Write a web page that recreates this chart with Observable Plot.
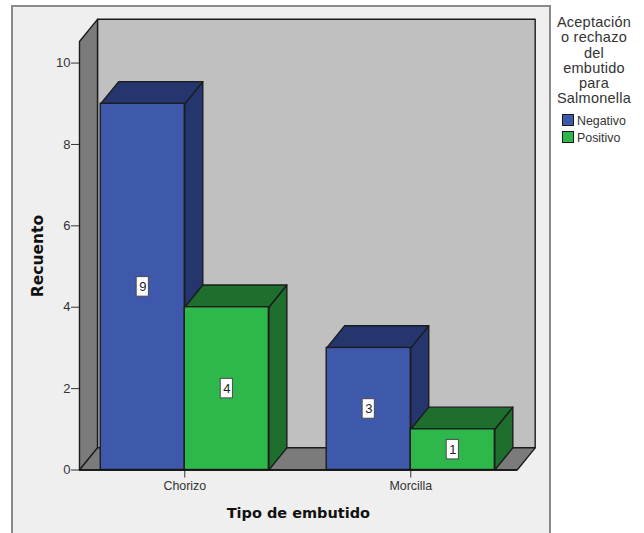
<!DOCTYPE html>
<html>
<head>
<meta charset="utf-8">
<script src="https://cdn.jsdelivr.net/npm/d3@7"></script>
<script src="https://cdn.jsdelivr.net/npm/@observablehq/plot@0.6"></script>
<style>
  html, body { margin: 0; padding: 0; background: #fff; overflow: hidden; }
  #chart { position: relative; width: 644px; height: 533px; overflow: hidden; }
  #panel { position: absolute; left: 11px; top: 5px; width: 536px; height: 540px; background: #efefef; border: 2px solid #8a8a8a; }
  #chart svg { position: absolute; left: 0; top: 0; }
  #legend { position: absolute; left: 551px; top: 15px; width: 86px; font-family: "Liberation Sans", Arial, sans-serif; color: #333; }
  #legend .title { font-size: 14.5px; line-height: 15.3px; text-align: center; letter-spacing: 0.25px; }
  #legend .item { position: absolute; left: 11px; font-size: 12.4px; line-height: 16px; white-space: nowrap; }
  #legend .swatch { display: inline-block; width: 10px; height: 10px; border: 1px solid #1a1a1a; margin-right: 3px; vertical-align: -1px; }
</style>
</head>
<body>
<div id="chart"><div id="panel"></div></div>
<script>
// Counts per sausage type, split by the Salmonella result
const categories = ["Chorizo", "Morcilla"];
const seriesNames = ["Negativo", "Positivo"];
const negativo = [9, 3];
const positivo = [4, 1];
const legendTitle = ["Aceptación", "o rechazo", "del", "embutido", "para", "Salmonella"];
const yTicks = [0, 2, 4, 6, 8, 10];

const frontColors = ["#3e58ab", "#2eb84b"];
const shadeColors = ["#25366e", "#1e6e2e"];

// Extent of the box in scale units, and the oblique offset of the depth faces
const xMin = -0.466, xMax = 1.471, yMax = 10.53;
const barWidth = 0.372, depthX = 0.0796, depthY = 0.545;

const xy = ([x, y]) => ({x, y});
const face = (pts, fill, stroke = "#1c1c1c") =>
  Plot.line(pts.map(xy), {x: "x", y: "y", curve: "linear-closed", fill, stroke, strokeWidth: 1.4, strokeLinejoin: "round"});

const marks = [
  // Back wall, side wall and floor of the box
  face([[xMin + depthX, depthY], [xMax + depthX, depthY], [xMax + depthX, yMax + depthY], [xMin + depthX, yMax + depthY]], "#c0c0c0"),
  face([[xMin, 0], [xMin + depthX, depthY], [xMin + depthX, yMax + depthY], [xMin, yMax]], "#7b7b7b"),
  face([[xMin, 0], [xMax, 0], [xMax + depthX, depthY], [xMin + depthX, depthY]], "#7b7b7b")
];

// Each bar is a front rectangle with an oblique side and top; drawn back to front
categories.forEach((cat, c) => {
  [negativo, positivo].forEach((series, s) => {
    const v = series[c];
    const x1 = c + (s - 1) * barWidth, x2 = x1 + barWidth;
    marks.push(
      face([[x2, 0], [x2 + depthX, depthY], [x2 + depthX, v + depthY], [x2, v]], shadeColors[s]),
      face([[x1, v], [x2, v], [x2 + depthX, v + depthY], [x1 + depthX, v + depthY]], shadeColors[s]),
      Plot.rect([{cat, v}], {x1: () => x1, x2: () => x2, y1: () => 0, y2: "v", fill: frontColors[s], stroke: "#1c1c1c", strokeWidth: 1.4})
    );
  });
});

// Boxed value labels at the middle of each bar
const labelRows = categories.flatMap((cat, c) => [negativo, positivo].map((series, s) => ({
  x: c + (s - 0.5) * barWidth, v: series[c]
})));
marks.push(
  Plot.rect(labelRows, {
    x1: d => d.x - 0.027, x2: d => d.x + 0.027,
    y1: d => d.v / 2 - 0.24, y2: d => d.v / 2 + 0.24,
    fill: "white", stroke: "#4a4a4a", strokeWidth: 1
  }),
  Plot.text(labelRows, {x: "x", y: d => d.v / 2, text: d => String(d.v), fontSize: 13, fill: "#222"})
);

marks.push(
  Plot.axisY({ticks: yTicks, tickSize: 8, tickPadding: 1, fontSize: 13, label: null, color: "#333", stroke: "#333"}),
  Plot.axisX({ticks: [0, 1], tickFormat: i => categories[i], tickSize: 8, tickPadding: 3, fontSize: 12.4, label: null, color: "#333", stroke: "#333"}),
  Plot.ruleY([0], {stroke: "#111", strokeWidth: 1.4}),
  Plot.text(["Recuento"], {frameAnchor: "left", rotate: -90, dx: -41, dy: 41.5, fontSize: 15.5, fontWeight: "bold", fill: "#111", fontFamily: "'DejaVu Sans', sans-serif"}),
  Plot.text(["Tipo de embutido"], {frameAnchor: "bottom", dx: 0, dy: 47.5, fontSize: 14.5, fontWeight: "bold", fill: "#111", fontFamily: "'DejaVu Sans', sans-serif"})
);

const plot = Plot.plot({
  width: 644, height: 533,
  marginLeft: 79, marginRight: 127.3, marginTop: 41, marginBottom: 63.5,
  style: {background: "transparent", fontFamily: "'Liberation Sans', Arial, sans-serif", overflow: "visible"},
  x: {type: "linear", domain: [xMin, xMax]},
  y: {type: "linear", domain: [0, yMax]},
  marks
});
const chart = document.getElementById("chart");
chart.appendChild(plot);

// Legend at the right of the panel
const legend = document.createElement("div");
legend.id = "legend";
const title = document.createElement("div");
title.className = "title";
title.innerHTML = legendTitle.join("<br>");
legend.appendChild(title);
seriesNames.forEach((name, i) => {
  const item = document.createElement("div");
  item.className = "item";
  item.style.top = (98 + i * 16.5) + "px";
  const sw = document.createElement("span");
  sw.className = "swatch";
  sw.style.background = frontColors[i];
  item.appendChild(sw);
  item.appendChild(document.createTextNode(name));
  legend.appendChild(item);
});
chart.appendChild(legend);
</script>
</body>
</html>
